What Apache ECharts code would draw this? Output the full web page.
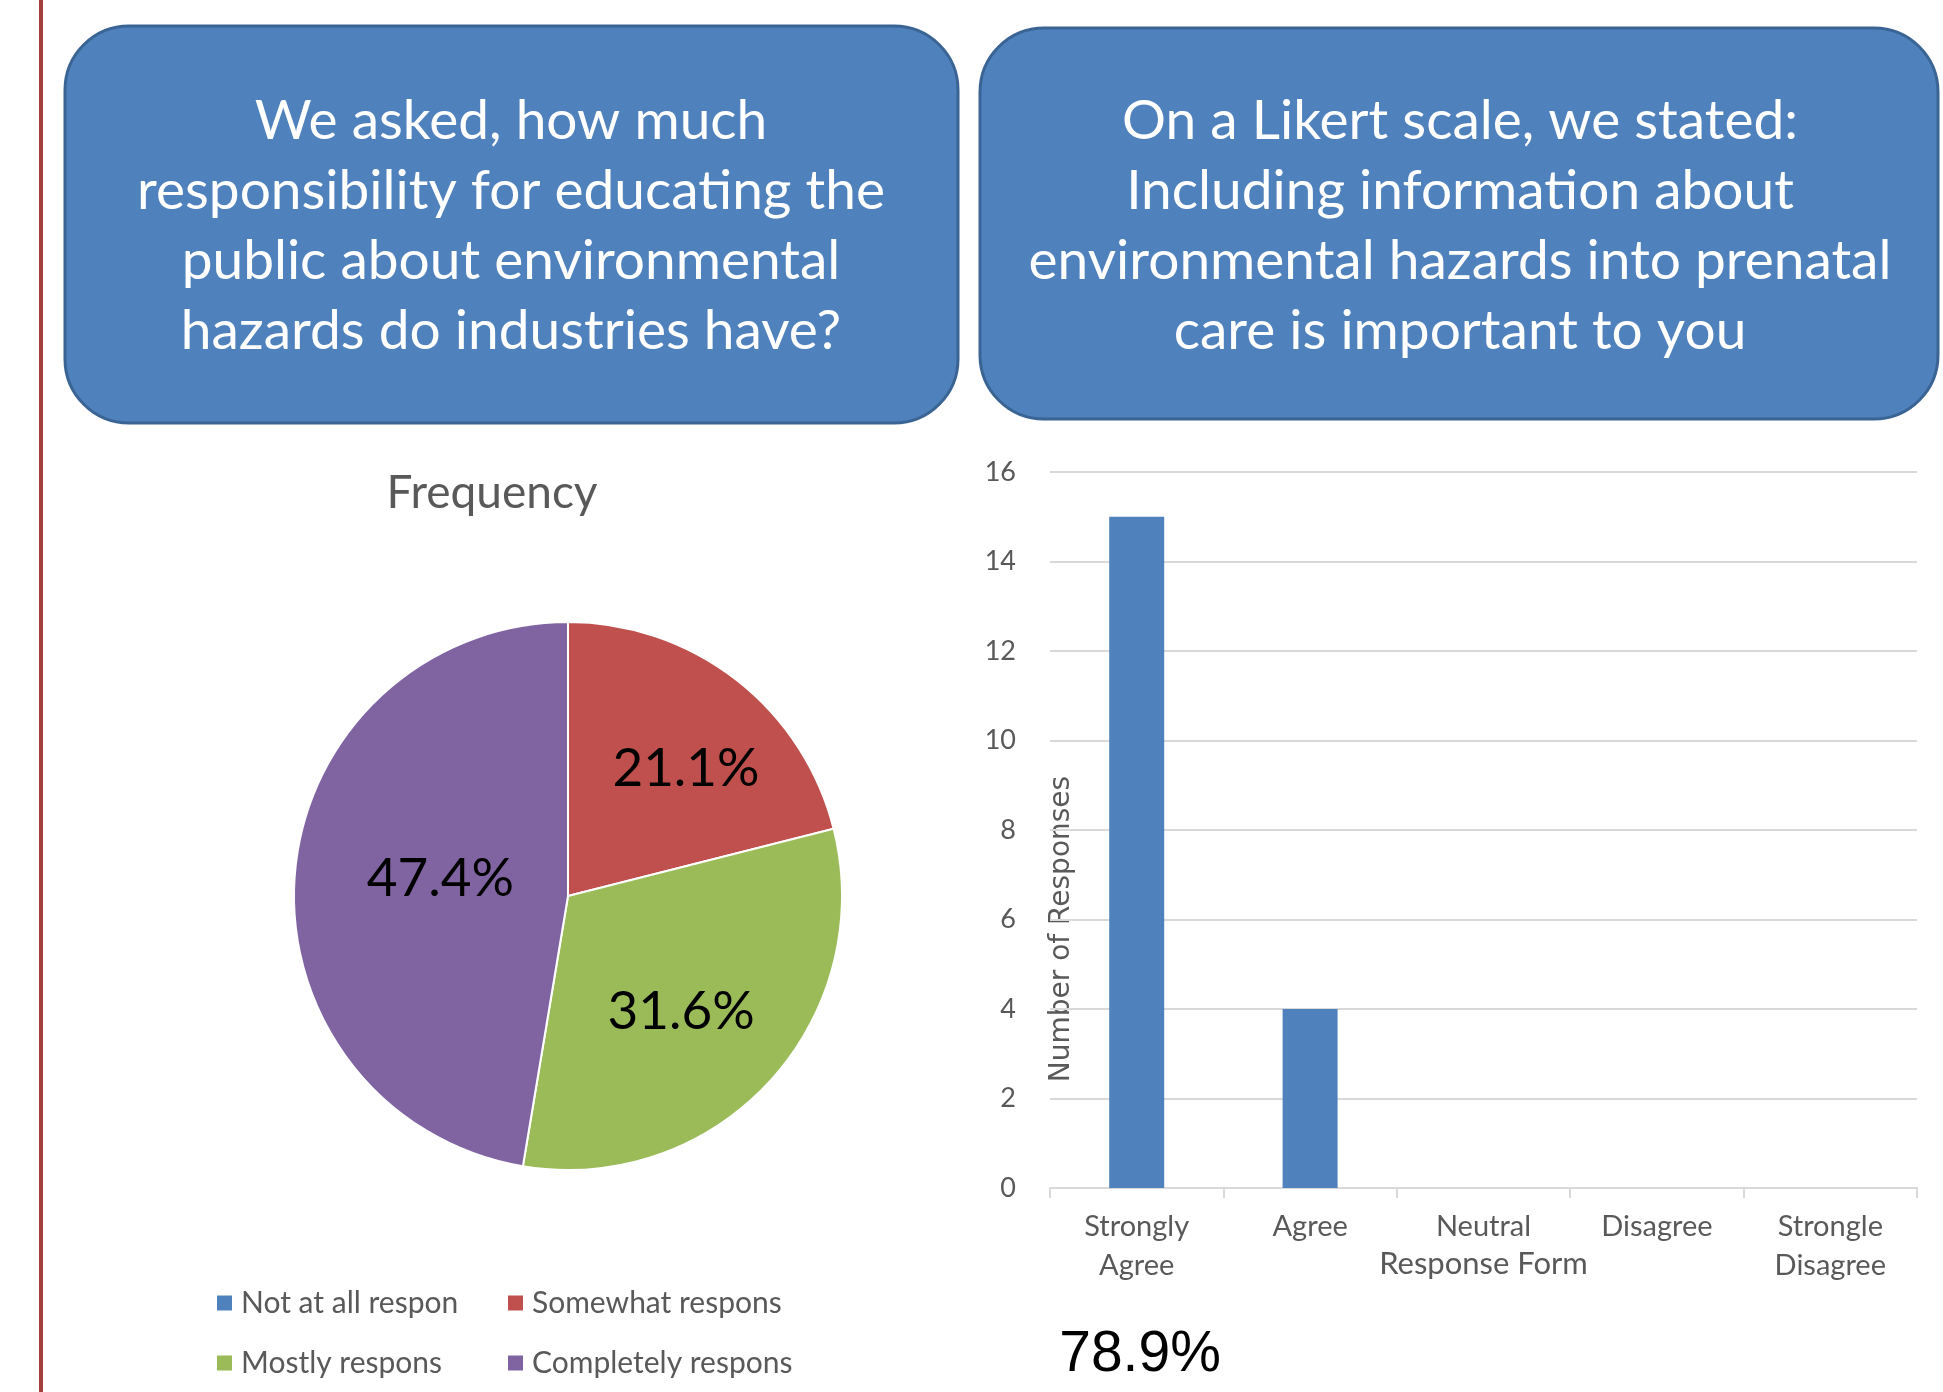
<!DOCTYPE html>
<html>
<head>
<meta charset="utf-8">
<script src="https://cdn.jsdelivr.net/npm/echarts@6/dist/echarts.min.js"></script>
<style>
  html, body { margin: 0; padding: 0; background: #fff; }
  #main { width: 1943px; height: 1392px; }
</style>
</head>
<body>
<div id="main"></div>
<script>
// pie: responsibility of industries
const pieNames = ['Not at all respon', 'Somewhat respons', 'Mostly respons', 'Completely respons']
const pieValues = [0, 4, 6, 9]
const pieColors = ['#4F81BD', '#C0504D', '#9BBB59', '#8064A2']

// bar: likert answers
const likertCats = ['Strongly\nAgree', 'Agree', 'Neutral', 'Disagree', 'Strongle\nDisagree']
const likertValues = [15, 4, 0, 0, 0]
const yTicks = { min: 0, max: 16, interval: 2 }

const leftQuestion = 'We asked, how much\nresponsibility for educating the\npublic about environmental\nhazards do industries have?'
const rightQuestion = 'On a Likert scale, we stated:\nIncluding information about\nenvironmental hazards into prenatal\ncare is important to you'

const pieTotal = pieValues.reduce((a, b) => a + b, 0)
const likertTotal = likertValues.reduce((a, b) => a + b, 0)
const strongShare = (likertValues[0] / likertTotal * 100).toFixed(1) + '%'

// label nudges (excel "best fit" puts them a bit off the mid radius)
const pieLabelNudge = [[0, 0], [32, -17], [10, 21], [12, -6]]

const chart = echarts.init(document.getElementById('main'))

const boxStyle = { fill: '#4F81BD', stroke: '#3A6494', lineWidth: 3 }
const questionText = (txt, cx) => ({
  type: 'text',
  x: cx,
  y: 226,
  style: {
    text: txt,
    fill: '#fff',
    fontSize: 55,
    fontFamily: 'Lato',
    align: 'center',
    verticalAlign: 'middle',
    lineHeight: 70
  }
})

const legendBase = {
  orient: 'vertical',
  top: 1288,
  padding: 0,
  itemWidth: 17,
  itemHeight: 17,
  itemGap: 30,
  icon: 'rect',
  textStyle: { fontFamily: 'Lato', fontSize: 30, color: '#595959', padding: [0, 0, 0, 3] }
}

const option = {
  backgroundColor: '#fff',
  animation: false,
  title: {
    text: 'Frequency',
    left: 492,
    top: 470,
    padding: 0,
    textAlign: 'center',
    textStyle: { fontFamily: 'Lato', fontSize: 46, fontWeight: 'normal', color: '#595959' }
  },
  legend: [
    Object.assign({}, legendBase, { data: [pieNames[0], pieNames[2]], left: 215 }),
    Object.assign({}, legendBase, { data: [pieNames[1], pieNames[3]], left: 506 })
  ],
  grid: {
    left: 1050,
    right: 26,
    top: 472,
    bottom: 204
  },
  xAxis: {
    type: 'category',
    data: likertCats,
    name: 'Response Form',
    nameLocation: 'middle',
    nameGap: 60,
    nameMoveOverlap: false,
    nameTextStyle: { fontFamily: 'Lato', fontSize: 31, color: '#595959' },
    axisLine: { lineStyle: { color: '#D9D9D9', width: 2 } },
    axisTick: { show: true, length: 10, lineStyle: { color: '#D9D9D9', width: 2 } },
    axisLabel: { fontFamily: 'Lato', fontSize: 29, color: '#595959', lineHeight: 39, margin: 19 }
  },
  yAxis: {
    type: 'value',
    min: yTicks.min,
    max: yTicks.max,
    interval: yTicks.interval,
    axisLine: { show: false },
    axisTick: { show: false },
    axisLabel: { fontFamily: 'Lato', fontSize: 27, color: '#595959', margin: 34 },
    splitLine: { lineStyle: { color: '#D9D9D9', width: 2 } }
  },
  series: [
    {
      name: 'Frequency',
      type: 'pie',
      center: [568, 896],
      radius: 274,
      startAngle: 90,
      clockwise: true,
      color: pieColors,
      itemStyle: { borderColor: '#fff', borderWidth: 2 },
      label: {
        position: 'inside',
        fontFamily: 'Lato',
        fontSize: 53,
        color: '#000',
        formatter: p => p.value ? (p.value / pieTotal * 100).toFixed(1) + '%' : ''
      },
      labelLayout: p => ({ dx: pieLabelNudge[p.dataIndex][0], dy: pieLabelNudge[p.dataIndex][1] }),
      labelLine: { show: false },
      emphasis: { disabled: true },
      data: pieNames.map((n, i) => ({ name: n, value: pieValues[i] }))
    },
    {
      name: 'Responses',
      type: 'bar',
      data: likertValues,
      barWidth: 55,
      itemStyle: { color: '#4F81BD' }
    }
  ],
  graphic: [
    { type: 'rect', shape: { x: 39, y: 0, width: 4, height: 1392 }, style: { fill: '#A5403F' } },
    { type: 'rect', shape: { x: 65, y: 26, width: 893, height: 397, r: 64 }, style: boxStyle },
    { type: 'rect', shape: { x: 980, y: 28, width: 958, height: 391, r: 64 }, style: boxStyle },
    questionText(leftQuestion, 511),
    questionText(rightQuestion, 1460),
    {
      type: 'text',
      x: 1062,
      y: 929,
      rotation: Math.PI / 2,
      style: {
        text: 'Number of Responses',
        fill: '#595959',
        fontSize: 28,
        fontFamily: 'DejaVu Sans',
        align: 'center',
        verticalAlign: 'middle'
      }
    },
    {
      type: 'text',
      x: 1140,
      y: 1355,
      style: {
        text: strongShare,
        fill: '#000',
        fontSize: 57,
        fontFamily: 'Liberation Sans',
        align: 'center',
        verticalAlign: 'middle'
      }
    }
  ]
}

chart.setOption(option)
</script>
</body>
</html>
